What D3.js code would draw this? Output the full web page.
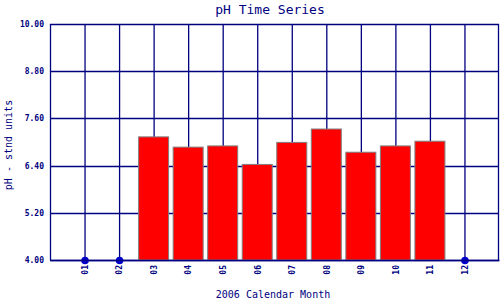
<!DOCTYPE html>
<html>
<head>
<meta charset="utf-8">
<script src="https://d3js.org/d3.v7.min.js"></script>
<style>
body { margin: 0; background: #fff; }
text { font-family: "DejaVu Sans Mono", "Liberation Mono", monospace; fill: #000080; }
</style>
</head>
<body>
<svg id="chart" width="500" height="300"></svg>
<script>
var months = ["01", "02", "03", "04", "05", "06", "07", "08", "09", "10", "11", "12"];
var phValues = [null, null, 7.13, 6.87, 6.90, 6.43, 6.99, 7.33, 6.74, 6.90, 7.02, null];
var yTicks = [4.00, 5.20, 6.40, 7.60, 8.80, 10.00];

var svg = d3.select("#chart"),
    margin = {top: 24, right: 1, bottom: 40, left: 50},
    width = +svg.attr("width") - margin.left - margin.right,
    height = +svg.attr("height") - margin.top - margin.bottom;

var navy = "#000080";

var x = d3.scaleLinear().domain([0, 13]).range([0, width]);
var y = d3.scaleLinear().domain([4, 10]).range([height, 0]);

var g = svg.append("g")
    .attr("transform", "translate(" + margin.left + "," + margin.top + ")");

// grid
g.selectAll(".vgrid")
    .data(months)
    .enter().append("line")
    .attr("x1", function (d, i) { return x(i + 1) + 0.5; })
    .attr("x2", function (d, i) { return x(i + 1) + 0.5; })
    .attr("y1", 0).attr("y2", height)
    .attr("stroke", navy).attr("stroke-width", 1.3);

g.selectAll(".hgrid")
    .data(yTicks)
    .enter().append("line")
    .attr("x1", 0).attr("x2", width)
    .attr("y1", function (d) { return Math.round(y(d)) + 0.5; })
    .attr("y2", function (d) { return Math.round(y(d)) + 0.5; })
    .attr("stroke", navy).attr("stroke-width", 1.3);

g.append("line").attr("x1", 0.5).attr("x2", 0.5).attr("y1", 0).attr("y2", height)
    .attr("stroke", navy).attr("stroke-width", 1.3);
g.append("line").attr("x1", width - 0.5).attr("x2", width - 0.5).attr("y1", 0).attr("y2", height)
    .attr("stroke", navy).attr("stroke-width", 1.3);

// bars
var barW = 30;
var withData = months.map(function (m, i) { return {m: m, i: i, v: phValues[i]}; });

g.selectAll(".bar")
    .data(withData.filter(function (d) { return d.v != null; }))
    .enter().append("rect")
    .attr("x", function (d) { return x(d.i + 1) - barW / 2; })
    .attr("y", function (d) { return y(d.v); })
    .attr("width", barW)
    .attr("height", function (d) { return height - y(d.v); })
    .attr("fill", "#ff0000")
    .attr("stroke", "#808080")
    .attr("stroke-width", 1);

// missing months
g.selectAll(".dot")
    .data(withData.filter(function (d) { return d.v == null; }))
    .enter().append("circle")
    .attr("cx", function (d) { return x(d.i + 1) + 0.5; })
    .attr("cy", height + 0.5)
    .attr("r", 3.8)
    .attr("fill", "#0000cc");

// axes
var yAxis = g.append("g")
    .call(d3.axisLeft(y).tickValues(yTicks).tickSize(0).tickPadding(6).tickFormat(d3.format(".2f")));
yAxis.select(".domain").remove();
yAxis.selectAll("text")
    .attr("font-size", 8).attr("font-weight", "bold")
    .style("font-family", "'DejaVu Sans Mono', monospace").attr("fill", navy);

var xAxis = g.append("g")
    .attr("transform", "translate(0," + height + ")")
    .call(d3.axisBottom(x).tickValues(d3.range(1, 13)).tickSize(0)
        .tickFormat(function (d) { return months[d - 1]; }));
xAxis.select(".domain").attr("stroke", navy).attr("stroke-width", 1.3);
xAxis.selectAll("text")
    .attr("font-size", 8).attr("font-weight", "bold")
    .style("font-family", "'DejaVu Sans Mono', monospace").attr("fill", navy)
    .attr("transform", "rotate(-90)")
    .attr("text-anchor", "end")
    .attr("x", -5).attr("y", 0).attr("dy", "0.35em")
    .attr("dx", 0);

// titles
svg.append("text")
    .attr("x", 270).attr("y", 14)
    .attr("text-anchor", "middle")
    .attr("font-size", 13)
    .text("pH Time Series");

svg.append("text")
    .attr("x", 273).attr("y", 298)
    .attr("text-anchor", "middle")
    .attr("font-size", 10)
    .text("2006 Calendar Month");

svg.append("text")
    .attr("transform", "translate(12,145) rotate(-90)")
    .attr("text-anchor", "middle")
    .attr("font-size", 10)
    .text("pH - stnd units");
</script>
</body>
</html>
